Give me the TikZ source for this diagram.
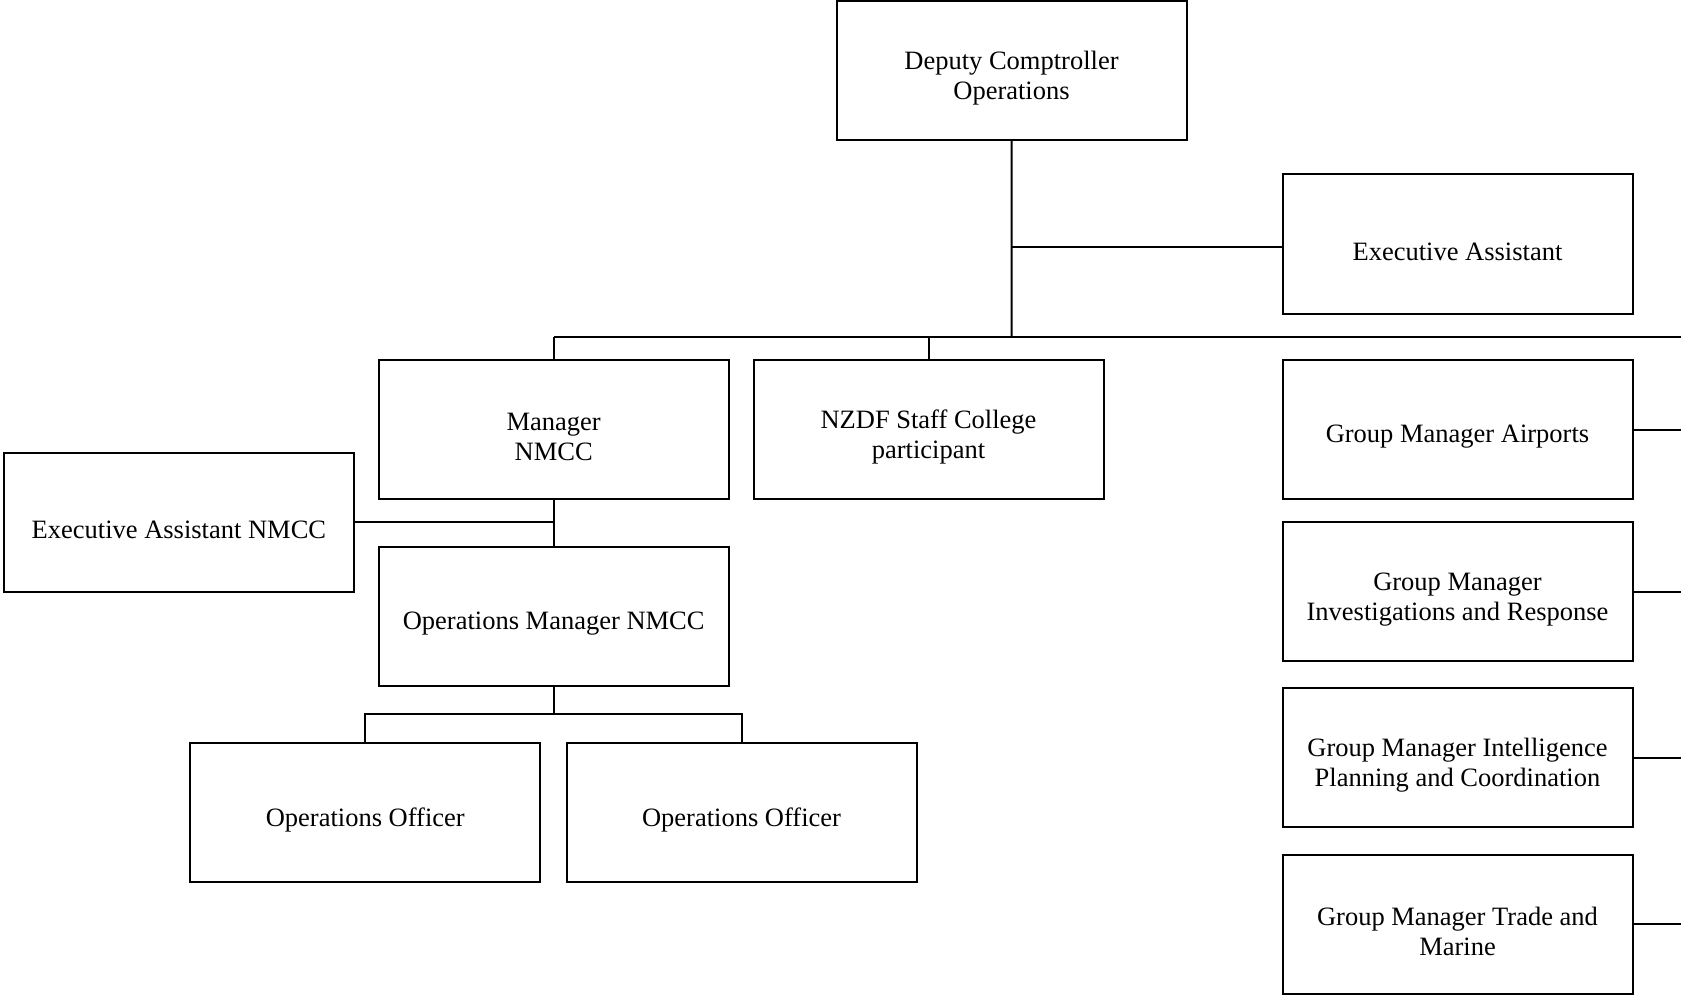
\documentclass[tikz,border=0pt]{standalone}
\usepackage{fontspec}
\setmainfont{Liberation Serif}
\begin{document}
\begin{tikzpicture}[x=1pt,y=-1pt,
  orgbox/.style={draw=black, line width=2pt, fill=white, rectangle,
    inner sep=0pt, font=\fontsize{26.5}{30}\selectfont,
    execute at begin node={\begin{minipage}[c][139pt][c]{350pt}\centering\vspace*{15pt}},
    execute at end node={\end{minipage}}},
  link/.style={draw=black, line width=2pt}]
\useasboundingbox (0,0) rectangle (1681,995);

% boxes
\node[orgbox] (dco)  at (1011.5,70.5)  {Deputy Comptroller\\Operations};
\node[orgbox] (ea)   at (1457.5,244)   {Executive Assistant};
\node[orgbox] (mgr)  at (553.7,429.7)  {Manager\\NMCC};
\node[orgbox] (nzdf) at (928.5,429.3)  {NZDF Staff College\\participant};
\node[orgbox] (gma)  at (1457.5,429.5) {Group Manager Airports};
\node[orgbox] (gmi)  at (1457.5,591.7) {Group Manager\\Investigations and Response};
\node[orgbox] (gmp)  at (1457.5,757.5) {Group Manager Intelligence\\Planning and Coordination};
\node[orgbox] (gmt)  at (1457.5,924.2) {Group Manager Trade and\\Marine};
\node[orgbox] (eanm) at (178.9,522)    {Executive Assistant NMCC};
\node[orgbox] (opm)  at (553.7,616.3)  {Operations Manager NMCC};
\node[orgbox] (oo1)  at (365.3,812.3)  {Operations Officer};
\node[orgbox] (oo2)  at (741.5,812.3)  {Operations Officer};

% junction points
\coordinate (bus)  at (1011.7,337.3);
\coordinate (busL) at (553.7,337.3);
\coordinate (busR) at (1681,337.3);
\coordinate (bar)  at (553.7,714.3);
\coordinate (eaj)  at ([yshift=-2.7pt]ea.west);

% top level
\draw[link] (dco.south) -- (bus);
\draw[link] (eaj) -- (eaj -| dco.south);
\draw[link] (busL) -- (busR);
\draw[link] (mgr.north) -- (busL);
\draw[link] (nzdf.north) -- (nzdf.north |- bus);

% group managers to the right
\draw[link] (gma.east) -- (gma.east -| busR);
\draw[link] (gmi.east) -- (gmi.east -| busR);
\draw[link] (gmp.east) -- (gmp.east -| busR);
\draw[link] (gmt.east) -- (gmt.east -| busR);

% NMCC branch
\draw[link] (mgr.south) -- (opm.north);
\draw[link] (eanm.east) -- (eanm.east -| mgr.south);
\draw[link] (opm.south) -- (bar);
\draw[link] (oo1.north) -- (oo1.north |- bar) -- (oo2.north |- bar) -- (oo2.north);
\end{tikzpicture}
\end{document}
